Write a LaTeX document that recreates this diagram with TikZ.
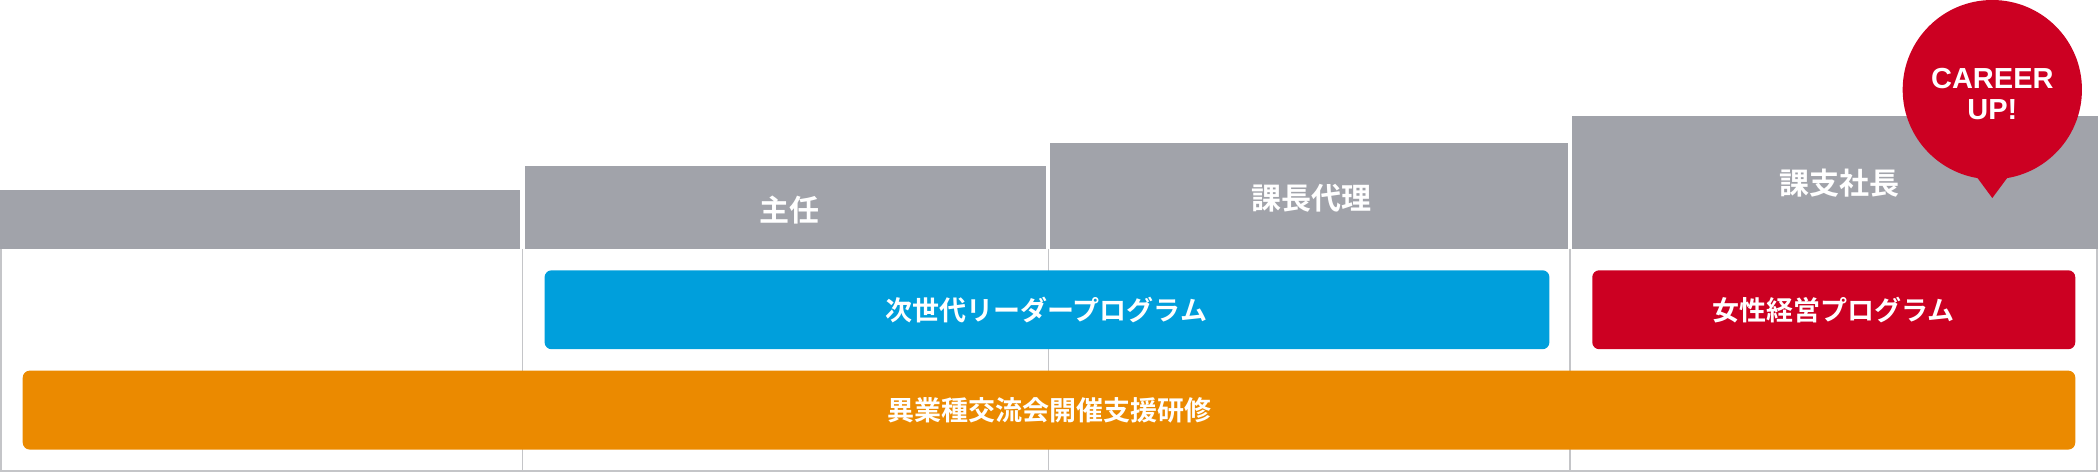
\documentclass[tikz,border=0pt]{standalone}
\usepackage{fontspec}
\newfontfamily\jp{Noto Sans CJK JP Bold}
\newfontfamily\lat{Liberation Sans Bold}
\definecolor{hdr}{HTML}{A1A3AA}
\definecolor{ln}{HTML}{C4C5C8}
\definecolor{blu}{HTML}{009FDC}
\definecolor{rd}{HTML}{CC0022}
\definecolor{org}{HTML}{EB8A00}
\begin{document}
\begin{tikzpicture}[x={(1.338pt,0pt)},y={(0pt,-1.338pt)},
  prog/.style={rounded corners=7pt,draw=none},
  tx/.style={text=white,font=\jp\fontsize{#1}{#1}\selectfont,inner sep=0},
  tx/.default=27pt]
\useasboundingbox (0,0) rectangle (1568,353);
% frame lines
\draw[ln,line width=1.5pt] (0.7,186) -- (0.7,352) -- (1567.3,352) -- (1567.3,186);
\foreach \x in {390.5,783.5,1173.5} \draw[ln,line width=1.5pt] (\x,186) -- (\x,352);
% headers
\fill[hdr] (0,142) rectangle (389,186);
\fill[hdr] (392,124) rectangle (782,186);
\fill[hdr] (785,107) rectangle (1172,186);
\fill[hdr] (1175,87) rectangle (1568,186);
\node[tx=30pt] (h2) at (590,157) {主任};
\node[tx=30pt] (h3) at (980,148) {課長代理};
\node[tx=30pt] (h4) at (1375,137) {課支社長};
% programs
\fill[prog,blu] (407,202) rectangle (1158,261);
\node[tx] (p1) at (782,231.5) {次世代リーダープログラム};
\fill[prog,rd] (1190,202) rectangle (1551,261);
\node[tx] (p2) at (1370,231.5) {女性経営プログラム};
\fill[prog,org] (17,277) rectangle (1551,336);
\node[tx] (p3) at (784,306.5) {異業種交流会開催支援研修};
% balloon
\fill[rd] (1489,67) circle [radius=67];
\fill[rd] (1472,125) -- (1489,148) -- (1506,125) -- cycle;
\node[text=white,font=\lat\fontsize{29pt}{31pt}\selectfont,align=center,inner sep=0] (cu) at (1489,70) {CAREER\\UP!};
\end{tikzpicture}
\end{document}
